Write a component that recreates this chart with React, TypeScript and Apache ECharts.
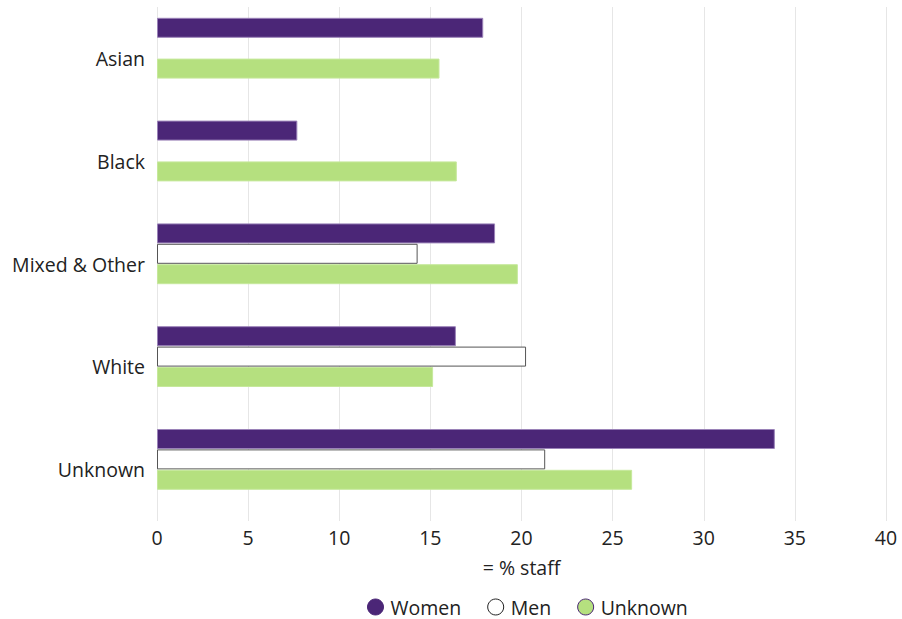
import React, { useEffect, useRef } from "react";
import * as echarts from "echarts";

const categories = ["Asian", "Black", "Mixed & Other", "White", "Unknown"];
const women = [17.9, 7.7, 18.55, 16.4, 33.9];
const men: (number | null)[] = [null, null, 14.3, 20.25, 21.3];
const unknown = [15.5, 16.45, 19.8, 15.15, 26.07];
const spacer: (number | null)[] = [null, null, null, null, null];
const xTicks = { min: 0, max: 40, interval: 5 };

const FONT = "Open Sans";
const FS = 19.5;

export default function App() {
  const ref = useRef<HTMLDivElement>(null);
  useEffect(() => {
    if (!ref.current) return;
    const chart = echarts.init(ref.current, undefined, { renderer: "svg" });
    chart.setOption({
      animation: false,
      textStyle: { fontFamily: FONT },
      grid: { left: 157, right: 16, top: 7, bottom: 98 },
      legend: {
        top: 597,
        left: 367,
        itemWidth: 16,
        itemHeight: 16,
        itemGap: 26,
        padding: 0,
        textStyle: { fontSize: FS, color: "#222", fontFamily: FONT, padding: [0, 0, 0, 2] },
        data: [
          { name: "Women", icon: "circle", itemStyle: { color: "#4b2677", borderColor: "#4b2677", borderWidth: 1 } },
          { name: "Men", icon: "circle", itemStyle: { color: "#ffffff", borderColor: "#222222", borderWidth: 1 } },
          { name: "Unknown", icon: "circle", itemStyle: { color: "#b5e07f", borderColor: "#4b2677", borderWidth: 1 } },
        ],
      },
      xAxis: {
        type: "value",
        min: xTicks.min,
        max: xTicks.max,
        interval: xTicks.interval,
        name: "= % staff",
        nameLocation: "middle",
        nameGap: 36,
        nameTextStyle: { fontSize: FS, color: "#222", fontFamily: FONT },
        axisLine: { show: false },
        axisTick: { show: false },
        axisLabel: { fontSize: FS, color: "#222", margin: 6, fontFamily: FONT },
        splitLine: { show: true, lineStyle: { color: "#e6e6e6", width: 1 } },
      },
      yAxis: {
        type: "category",
        data: categories,
        inverse: true,
        axisLine: { show: false },
        axisTick: { show: false },
        axisLabel: { fontSize: FS, color: "#222", margin: 12, fontFamily: FONT },
      },
      series: [
        {
          name: "Women",
          type: "bar",
          data: women,
          barWidth: 20,
          barGap: "2%",
          itemStyle: { color: "#4b2677", borderColor: "#9a82b8", borderWidth: 1 },
        },
        {
          name: "Men",
          type: "bar",
          data: men,
          barWidth: 20,
          barGap: "2%",
          itemStyle: { color: "#ffffff", borderColor: "#555555", borderWidth: 1 },
        },
        {
          name: "Unknown",
          type: "bar",
          data: unknown,
          barWidth: 20,
          barGap: "2%",
          itemStyle: { color: "#b5e07f", borderColor: "#c6e89c", borderWidth: 1 },
        },
        {
          name: "spacer",
          type: "bar",
          data: spacer,
          barWidth: 20,
          barGap: "2%",
          silent: true,
          itemStyle: { color: "transparent" },
        },
      ],
    });
    return () => chart.dispose();
  }, []);
  return <div ref={ref} style={{ width: 902, height: 619, position: "absolute", left: 0, top: 0 }} />;
}
